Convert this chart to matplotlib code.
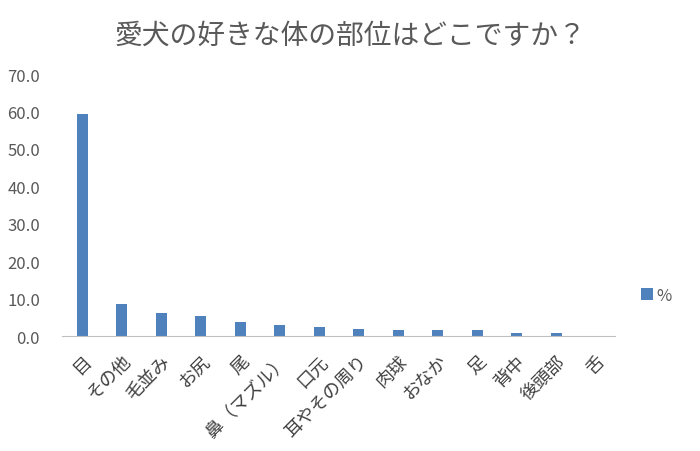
import matplotlib.pyplot as plt
import numpy as np

plt.rcParams['font.family'] = ['Noto Sans CJK JP', 'DejaVu Sans']

title = '愛犬の好きな体の部位はどこですか？'
categories = ['目', 'その他', '毛並み', 'お尻', '尾', '鼻（マズル）', '口元', '耳やその周り',
              '肉球', 'おなか', '足', '背中', '後頭部', '舌']
values = [59.3, 8.6, 6.2, 5.4, 3.7, 3.0, 2.4, 1.8, 1.6, 1.6, 1.6, 0.8, 0.8, 0.0]
series_name = '%'

bar_color = '#4F81BD'
text_color = '#595959'

fig = plt.figure(figsize=(7, 4.52), dpi=100)
ax = fig.add_axes([0.089, 0.254, 0.79, 0.58])

x = np.arange(len(categories))
ax.bar(x, values, width=0.28, color=bar_color, label=series_name)

ax.set_xlim(-0.5, len(categories) - 0.5)
ax.set_ylim(0, 70)
ax.set_yticks(np.arange(0, 71, 10))
ax.set_yticklabels([f'{v:.1f}' for v in np.arange(0, 71, 10)], fontsize=12, color=text_color)
ax.set_xticks(x)
ax.set_xticklabels(categories, rotation=45, ha='right', rotation_mode='anchor',
                   fontsize=13, color='#404040')
ax.tick_params(axis='both', length=0)
ax.tick_params(axis='y', pad=16)
ax.tick_params(axis='x', pad=11)

for s in ['top', 'right', 'left']:
    ax.spines[s].set_visible(False)
ax.spines['bottom'].set_color('#BFBFBF')

fig.text(0.5, 0.922, title, ha='center', va='center', fontsize=20, color=text_color)

ax.legend(loc='center left', bbox_to_anchor=(1.02, 0.155), frameon=False,
          fontsize=12, handlelength=0.7, handleheight=0.7, handletextpad=0.2,
          labelcolor=text_color)

fig.savefig('out.png', dpi=100)
